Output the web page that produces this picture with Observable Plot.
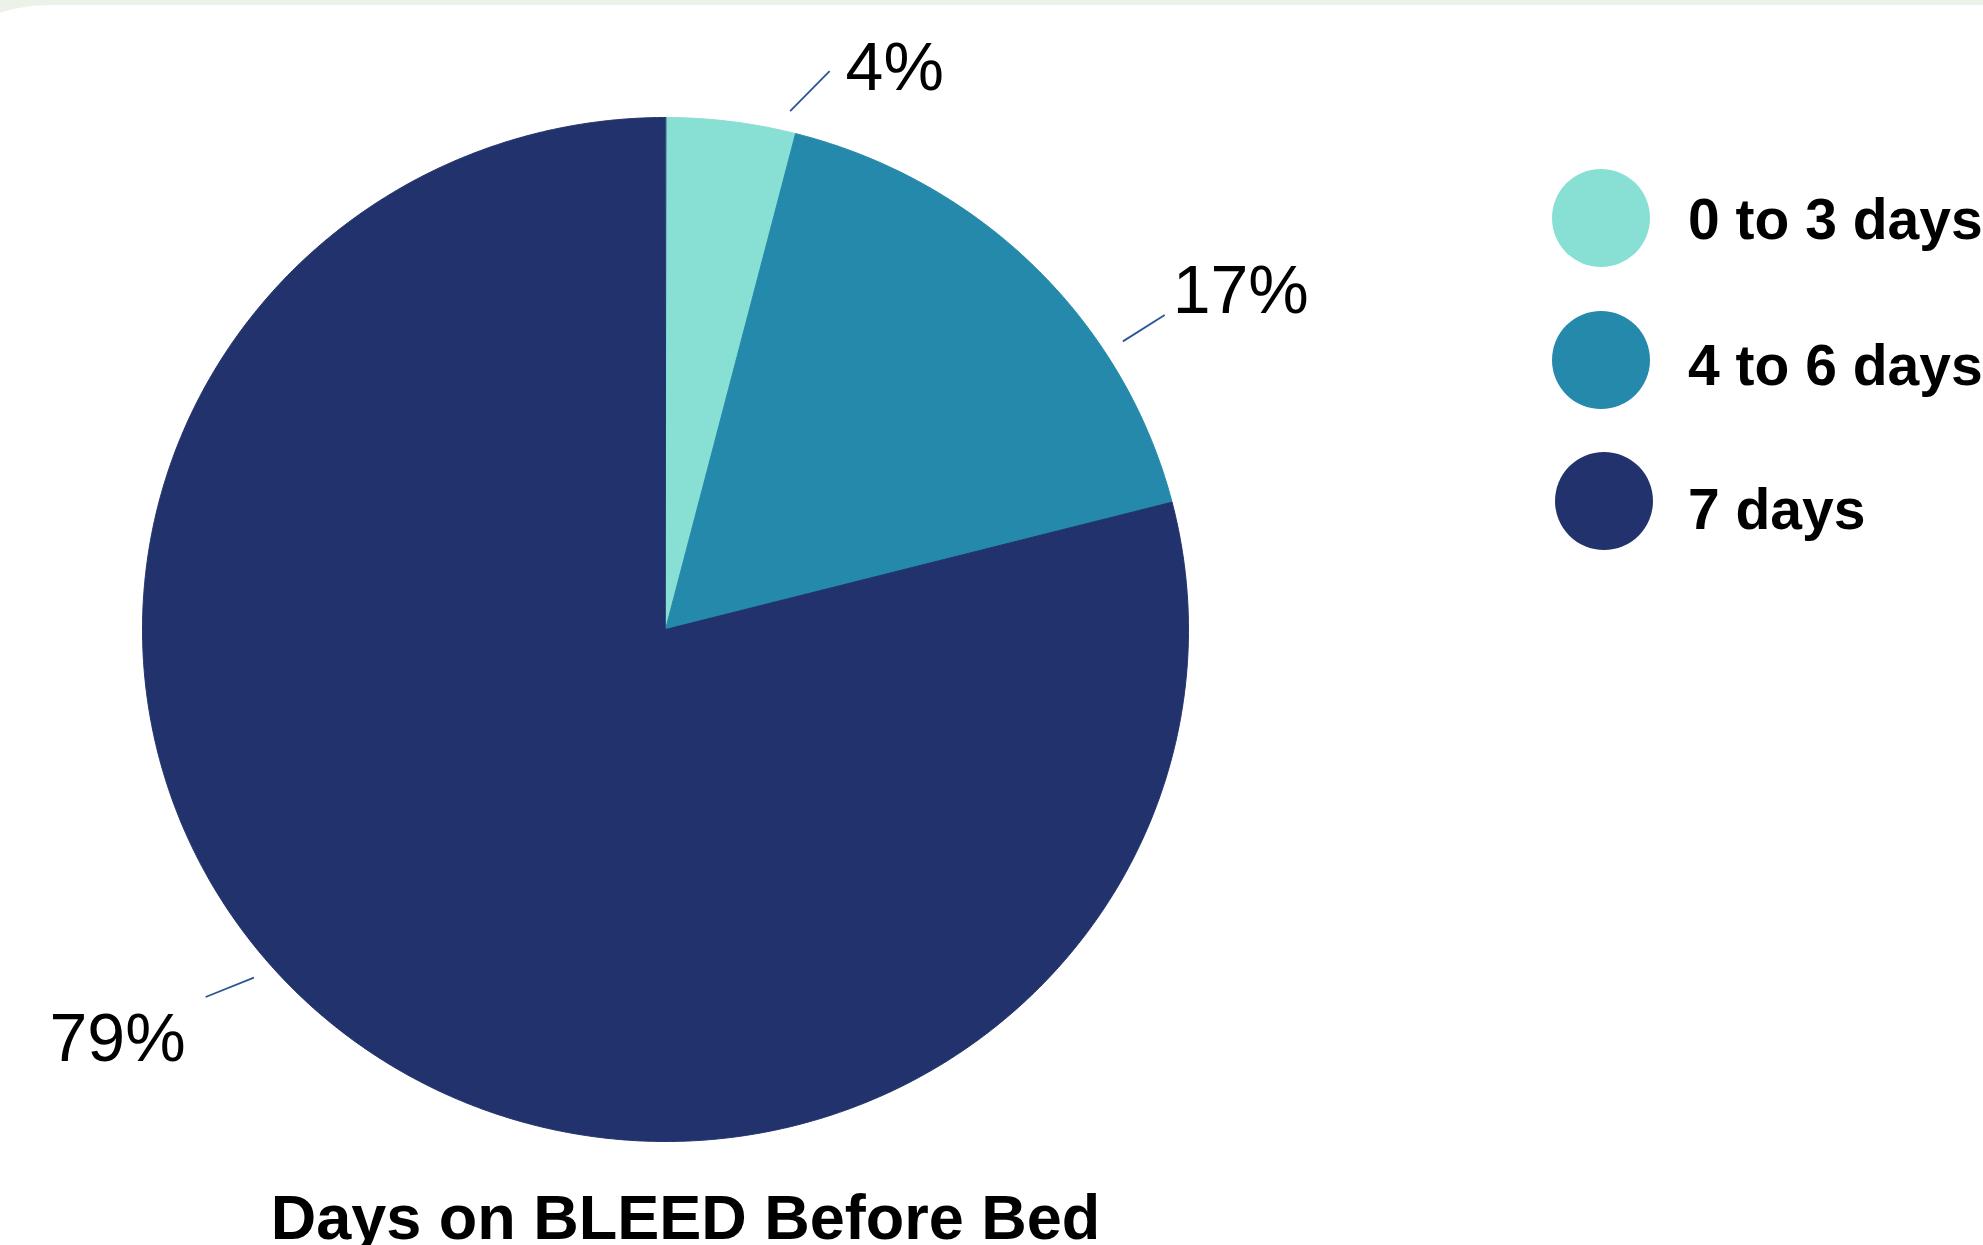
<!DOCTYPE html>
<html>
<head>
<meta charset="utf-8">
<script src="https://cdn.jsdelivr.net/npm/d3@7"></script>
<script src="https://cdn.jsdelivr.net/npm/@observablehq/plot@0.6"></script>
<style>
  html, body { margin: 0; padding: 0; width: 1983px; height: 1245px; overflow: hidden;
    background: #edf2e9; font-family: "Liberation Sans", Arial, sans-serif; }
  #card { position: absolute; left: -116px; top: 5px; width: 2300px; height: 1400px;
    background: #ffffff; border-top-left-radius: 166px; }
  #chart { position: absolute; left: 0; top: 0; }
  .legend-dot { position: absolute; width: 98px; height: 98px; border-radius: 50%; }
  .legend-label { position: absolute; font-size: 57px; font-weight: bold; line-height: 57px;
    white-space: nowrap; color: #000; }
  #title { position: absolute; left: 0; width: 1371px; text-align: center; top: 1186px;
    font-size: 63px; font-weight: bold; line-height: 63px; white-space: nowrap; color: #000; }
</style>
</head>
<body>
<div id="card"></div>
<div id="chart"></div>
<div id="legend"></div>
<div id="title"></div>
<script>
// ---- data ----
const categories = ["0 to 3 days", "4 to 6 days", "7 days"];
const percents = [4, 17, 79];
const sliceColors = ["#88dfd4", "#2589ab", "#22326c"];
const chartTitle = "Days on BLEED Before Bed";

// ---- layout ----
const W = 1983, H = 1175;
const cx = 665, cy = 629, rx = 523, ry = 512;
// label placement: position along slice (fraction), leader twist (deg), text offsets (px), anchor
const labelLayout = [
  {frac: 0.92, twist: 2.8, dx: 16, dy: 19, anchor: "start"},
  {frac: 0.70, twist: 0.0, dx: 8, dy: -2, anchor: "start"},
  {frac: 0.54, twist: 1.6, dx: -20, dy: 64, anchor: "end"}
];
const r1 = 1.04, r2 = 1.135;

const total = d3.sum(percents);
const rad = d => d * Math.PI / 180;

// slice polygons in unit coordinates (angle measured clockwise from 12 o'clock)
const slicePts = [];
const leaders = [];
const labels = [];
let acc = 0;
categories.forEach((cat, i) => {
  const a0 = acc / total * 360;
  const a1 = (acc + percents[i]) / total * 360;
  acc += percents[i];
  slicePts.push({cat, x: 0, y: 0});
  const n = Math.max(4, Math.ceil((a1 - a0) / 0.25));
  for (let k = 0; k <= n; k++) {
    const a = rad(a0 + (a1 - a0) * k / n);
    slicePts.push({cat, x: Math.sin(a), y: Math.cos(a)});
  }
  const L = labelLayout[i];
  const s = a0 + (a1 - a0) * L.frac;
  const e = s + L.twist;
  const x1 = r1 * Math.sin(rad(s)), y1 = r1 * Math.cos(rad(s));
  const x2 = r2 * Math.sin(rad(e)), y2 = r2 * Math.cos(rad(e));
  leaders.push({cat, x1, y1, x2, y2});
  labels.push({cat, text: percents[i] + "%", anchor: L.anchor,
    x: x2 + L.dx / rx, y: y2 - L.dy / ry});
});

const chart = Plot.plot({
  width: W, height: H, margin: 0,
  x: {domain: [-1, 1], range: [cx - rx, cx + rx], axis: null},
  y: {domain: [-1, 1], range: [cy + ry, cy - ry], axis: null},
  color: {domain: categories, range: sliceColors},
  style: {background: "transparent", fontFamily: "Liberation Sans, Arial, sans-serif", overflow: "visible"},
  marks: [
    Plot.line(slicePts, {x: "x", y: "y", z: "cat", fill: "cat", stroke: "cat", strokeWidth: 1, curve: "linear-closed"}),
    Plot.link(leaders, {x1: "x1", y1: "y1", x2: "x2", y2: "y2", stroke: "#2a5793", strokeWidth: 1.8}),
    Plot.text(labels.filter(d => d.anchor === "start"), {x: "x", y: "y", text: "text", textAnchor: "start", lineAnchor: "bottom", fontSize: 68, fill: "#000"}),
    Plot.text(labels.filter(d => d.anchor === "end"), {x: "x", y: "y", text: "text", textAnchor: "end", lineAnchor: "bottom", fontSize: 68, fill: "#000"})
  ]
});
document.getElementById("chart").appendChild(chart);

// ---- legend (colours from the plot's colour scale) ----
const colorScale = chart.scale("color");
const legend = document.getElementById("legend");
const dotCenters = [[1601, 218], [1601, 360], [1604, 501]];
const textBaselines = [239, 385, 529];
categories.forEach((cat, i) => {
  const dot = document.createElement("div");
  dot.className = "legend-dot";
  dot.style.background = colorScale.apply(cat);
  dot.style.left = (dotCenters[i][0] - 49) + "px";
  dot.style.top = (dotCenters[i][1] - 49) + "px";
  legend.appendChild(dot);
  const lab = document.createElement("div");
  lab.className = "legend-label";
  lab.textContent = cat;
  lab.style.left = "1688px";
  lab.style.top = (textBaselines[i] - 48) + "px";
  legend.appendChild(lab);
});

document.getElementById("title").textContent = chartTitle;
</script>
</body>
</html>
